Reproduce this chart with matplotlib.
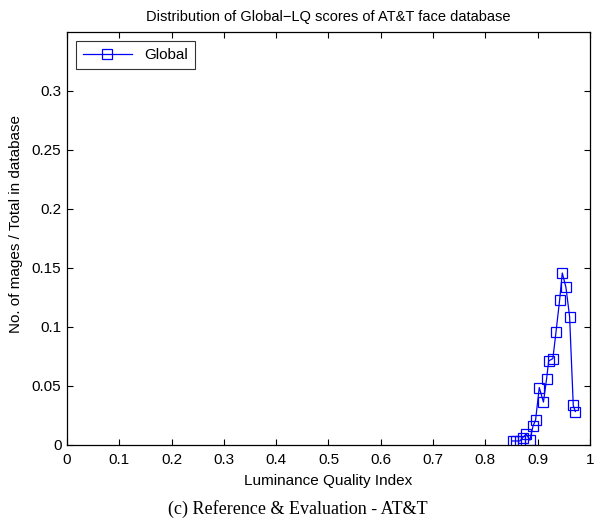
import matplotlib
matplotlib.use('Agg')
import matplotlib.pyplot as plt
import numpy as np

# Global-LQ score distribution
lq_index = [0.852, 0.858, 0.866, 0.871, 0.878, 0.885, 0.891, 0.896, 0.903, 0.911,
            0.917, 0.921, 0.929, 0.935, 0.942, 0.947, 0.954, 0.961, 0.968, 0.972]
frac_global = [0.003, 0.003, 0.003, 0.0057, 0.009, 0.0037, 0.0155, 0.021, 0.0483, 0.036,
               0.0557, 0.0709, 0.0729, 0.0955, 0.1229, 0.1455, 0.1333, 0.1085, 0.0331, 0.028]
x_ticks = [0, 0.1, 0.2, 0.3, 0.4, 0.5, 0.6, 0.7, 0.8, 0.9, 1]
y_ticks = [0, 0.05, 0.1, 0.15, 0.2, 0.25, 0.3]

plt.rcParams['font.family'] = ['Liberation Sans', 'DejaVu Sans']

fig = plt.figure(figsize=(5.95, 5.24), dpi=100)
ax = fig.add_axes([0.1126, 0.1517, 0.879, 0.7873])

ax.plot(lq_index, frac_global, color='blue', lw=0.9, marker='s', ms=6.5,
        mfc='none', mec='blue', mew=0.9, label='Global')

ax.set_xlim(0, 1)
ax.set_ylim(0, 0.35)
ax.set_xticks(x_ticks)
ax.set_xticklabels(['0', '0.1', '0.2', '0.3', '0.4', '0.5', '0.6', '0.7', '0.8', '0.9', '1'])
ax.set_yticks(y_ticks)
ax.set_yticklabels(['0', '0.05', '0.1', '0.15', '0.2', '0.25', '0.3'])
ax.tick_params(direction='in', top=True, right=True, length=4, labelsize=11)
ax.tick_params(axis='x', pad=6)
ax.tick_params(axis='y', pad=4)
for s in ax.spines.values():
    s.set_linewidth(0.9)

ax.set_xlabel('Luminance Quality Index', fontsize=11, labelpad=5)
ax.set_ylabel('No. of mages / Total in database', fontsize=11)
ax.yaxis.set_label_coords(-0.084, 0.534)
ax.set_title('Distribution of Global\u2212LQ scores of AT&T face database', fontsize=10.5, pad=8)

leg = ax.legend(loc='upper left', fontsize=11, fancybox=False, edgecolor='black',
                handlelength=3.2, borderpad=0.45, borderaxespad=0.6)
leg.get_frame().set_linewidth(0.8)

fig.text(0.5, 0.012, '(c) Reference & Evaluation - AT&T', ha='center', va='bottom',
         fontsize=13, family=['Liberation Serif', 'DejaVu Serif'])

plt.savefig('out.png', dpi=100)
plt.close('all')
